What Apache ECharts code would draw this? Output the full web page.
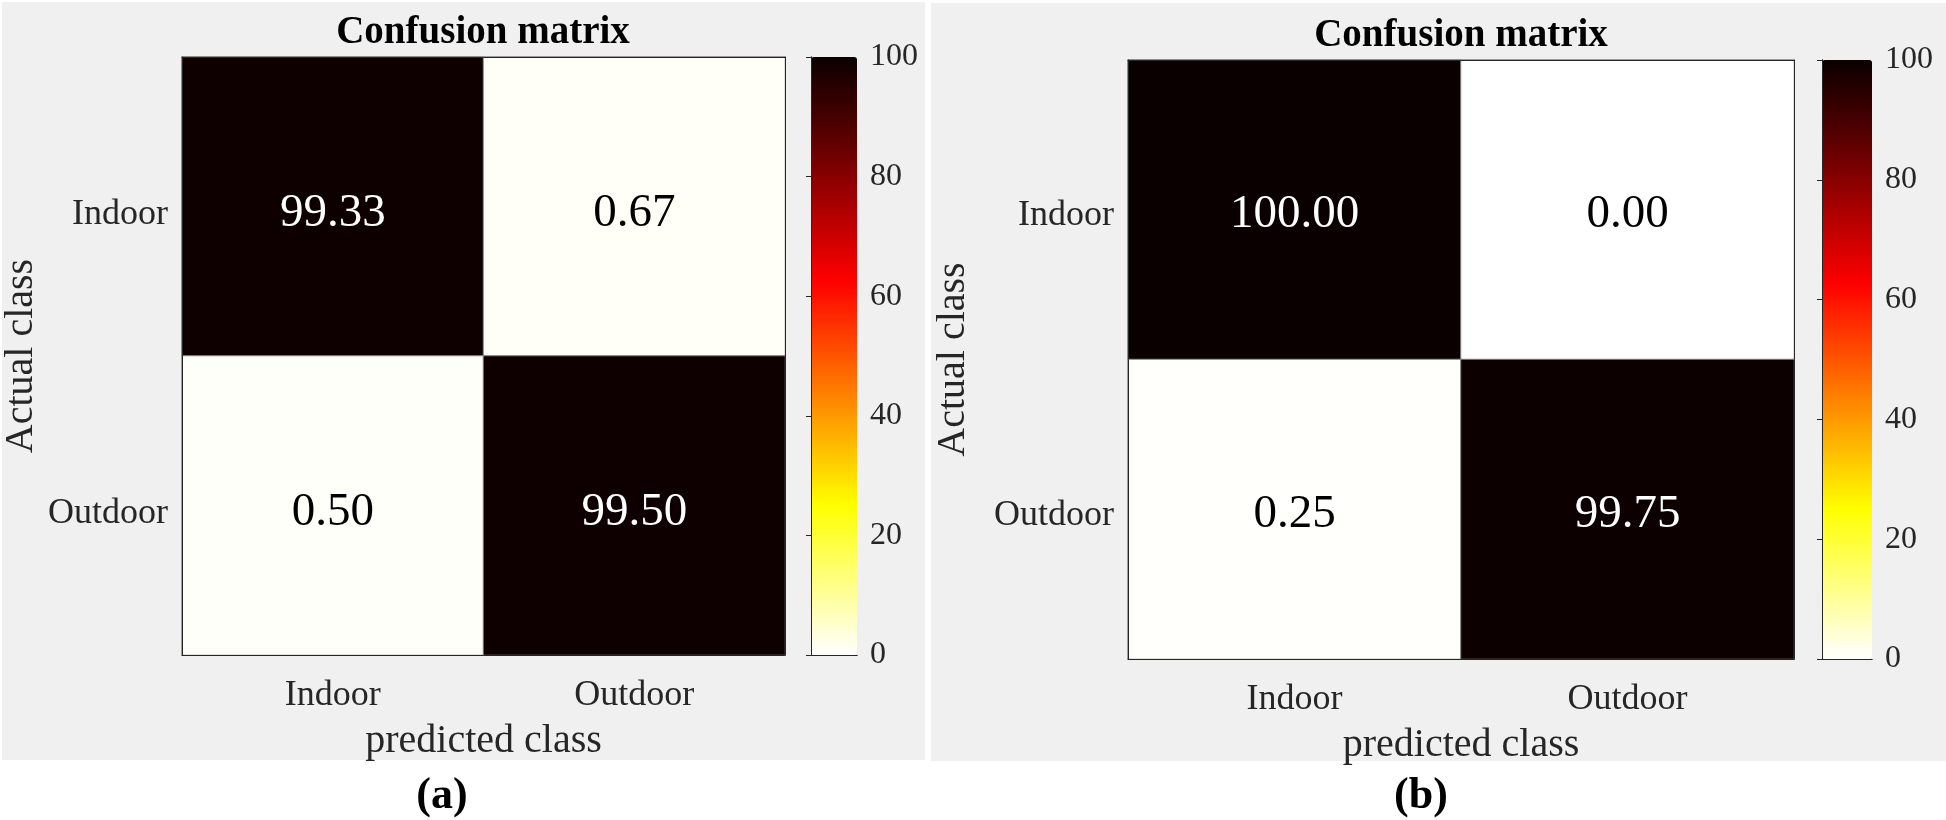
<!DOCTYPE html>
<html>
<head>
<meta charset="utf-8">
<script src="https://cdn.jsdelivr.net/npm/echarts@6/dist/echarts.min.js"></script>
<style>html,body{margin:0;padding:0;background:#fff}#c{width:1946px;height:820px}</style>
</head>
<body>
<div id="c"></div>
<script>
const predictedClasses = ['Indoor', 'Outdoor'];
const actualClasses = ['Indoor', 'Outdoor'];
// rows = actual class, columns = predicted class
const matrixA = [[99.33, 0.67], [0.50, 99.50]];
const matrixB = [[100.00, 0.00], [0.25, 99.75]];
const colorbarTicks = [0, 20, 40, 60, 80, 100];
const panelTitles = ['Confusion matrix', 'Confusion matrix'];
const panelLetters = ['(a)', '(b)'];

const FONT = 'Liberation Serif';
const TXT = '#262626';
const hotReversed = ['#ffffff', '#ffff80', '#ffff00', '#ffaa00', '#ff5500', '#ff0000', '#aa0000', '#550000', '#0b0000'];

const panels = [
  {m: matrixA, grid: {left: 181, top: 57, width: 604, height: 598}, cb: {left: 811, top: 57, width: 46, height: 598},
   bg: {x: 2, y: 2, w: 923, h: 758}, nameGapY: 141, letterX: 442, valShift: 7},
  {m: matrixB, grid: {left: 1128, top: 60, width: 666, height: 599}, cb: {left: 1822, top: 60, width: 50, height: 599},
   bg: {x: 931, y: 3, w: 1015, h: 758}, nameGapY: 155, letterX: 1421, valShift: 5}
];

function toData(m) {
  const out = [];
  m.forEach((row, r) => row.forEach((v, c) => {
    out.push({value: [c, r, v], label: {color: v > 50 ? '#ffffff' : '#000000'}});
  }));
  return out;
}

const grid = [], xAxis = [], yAxis = [], series = [], visualMap = [], graphic = [];
panels.forEach((p, i) => {
  const g = grid.length;
  grid.push(Object.assign({containLabel: false}, p.grid));
  grid.push(Object.assign({containLabel: false}, p.cb));
  const lineStyle = {color: TXT, width: 1};
  const xi = xAxis.length;
  xAxis.push({type: 'category', gridIndex: g, data: predictedClasses, position: 'bottom', z: 10,
    axisLine: {show: true, lineStyle}, axisTick: {show: false}, splitLine: {show: false},
    axisLabel: {fontFamily: FONT, fontSize: 36, color: TXT, margin: 23},
    name: 'predicted class', nameLocation: 'middle', nameGap: 66,
    nameTextStyle: {fontFamily: FONT, fontSize: 40, color: TXT}});
  xAxis.push({type: 'category', gridIndex: g, data: predictedClasses, position: 'top', z: 10,
    axisLine: {show: true, lineStyle}, axisTick: {show: false}, axisLabel: {show: false}});
  const yi = yAxis.length;
  yAxis.push({type: 'category', gridIndex: g, data: actualClasses, inverse: true, position: 'left', z: 10,
    axisLine: {show: true, lineStyle}, axisTick: {show: false}, splitLine: {show: false},
    axisLabel: {margin: 14, formatter: v => '{t|' + v + '}',
      rich: {t: {fontFamily: FONT, fontSize: 36, color: TXT, padding: [2 * p.valShift + 2, 0, 0, 0]}}},
    name: 'Actual class', nameLocation: 'middle', nameGap: p.nameGapY,
    nameTextStyle: {fontFamily: FONT, fontSize: 40, color: TXT}});
  yAxis.push({type: 'category', gridIndex: g, data: actualClasses, inverse: true, position: 'right', z: 10,
    axisLine: {show: true, lineStyle}, axisTick: {show: false}, axisLabel: {show: false}});
  xAxis.push({type: 'value', gridIndex: g + 1, min: 0, max: 1, position: 'bottom', z: 10,
    axisLine: {show: true, lineStyle}, axisTick: {show: false}, axisLabel: {show: false}, splitLine: {show: false}});
  xAxis.push({type: 'value', gridIndex: g + 1, min: 0, max: 1, position: 'top', z: 10,
    axisLine: {show: true, lineStyle}, axisTick: {show: false}, axisLabel: {show: false}, splitLine: {show: false}});
  yAxis.push({type: 'value', gridIndex: g + 1, min: colorbarTicks[0], max: colorbarTicks[colorbarTicks.length - 1],
    interval: colorbarTicks[1] - colorbarTicks[0], position: 'right', z: 10,
    axisLine: {show: true, lineStyle}, axisTick: {show: true, inside: true, length: 5, lineStyle},
    splitLine: {show: false},
    axisLabel: {fontFamily: FONT, fontSize: 32, color: TXT, margin: 13}});
  yAxis.push({type: 'value', gridIndex: g + 1, min: 0, max: 100, position: 'left', z: 10,
    axisLine: {show: true, lineStyle}, axisTick: {show: false}, axisLabel: {show: false}, splitLine: {show: false}});

  series.push({type: 'heatmap', xAxisIndex: xi, yAxisIndex: yi, data: toData(p.m),
    itemStyle: {borderColor: '#808080', borderWidth: 1},
    label: {show: true, fontFamily: FONT, fontSize: 47, offset: [0, p.valShift], formatter: q => q.value[2].toFixed(2)},
    emphasis: {disabled: true}});

  visualMap.push({type: 'continuous', seriesIndex: i, min: 0, max: 100, calculable: false,
    orient: 'vertical', left: p.cb.left, top: p.cb.top, itemWidth: p.cb.width, itemHeight: p.cb.height,
    padding: 0, text: null, showLabel: false, hoverLink: false,
    inRange: {color: hotReversed}});

  graphic.push({type: 'rect', z: -100, silent: true, shape: {x: p.bg.x, y: p.bg.y, width: p.bg.w, height: p.bg.h},
    style: {fill: '#f0f0f0'}});
  const cx = p.grid.left + p.grid.width / 2;
  graphic.push({type: 'text', z: 50, silent: true, x: cx, y: p.grid.top - 24,
    style: {text: panelTitles[i], fontFamily: FONT, fontSize: 39, fontWeight: 'bold', fill: '#000',
      align: 'center', verticalAlign: 'middle'}});
  graphic.push({type: 'text', z: 50, silent: true, x: p.letterX, y: 797,
    style: {text: panelLetters[i], fontFamily: FONT, fontSize: 44, fontWeight: 'bold', fill: '#000',
      align: 'center', verticalAlign: 'middle'}});
});

const chart = echarts.init(document.getElementById('c'), null, {renderer: 'canvas'});
chart.setOption({
  backgroundColor: '#ffffff',
  animation: false,
  grid, xAxis, yAxis, series, visualMap, graphic
});
</script>
</body>
</html>
